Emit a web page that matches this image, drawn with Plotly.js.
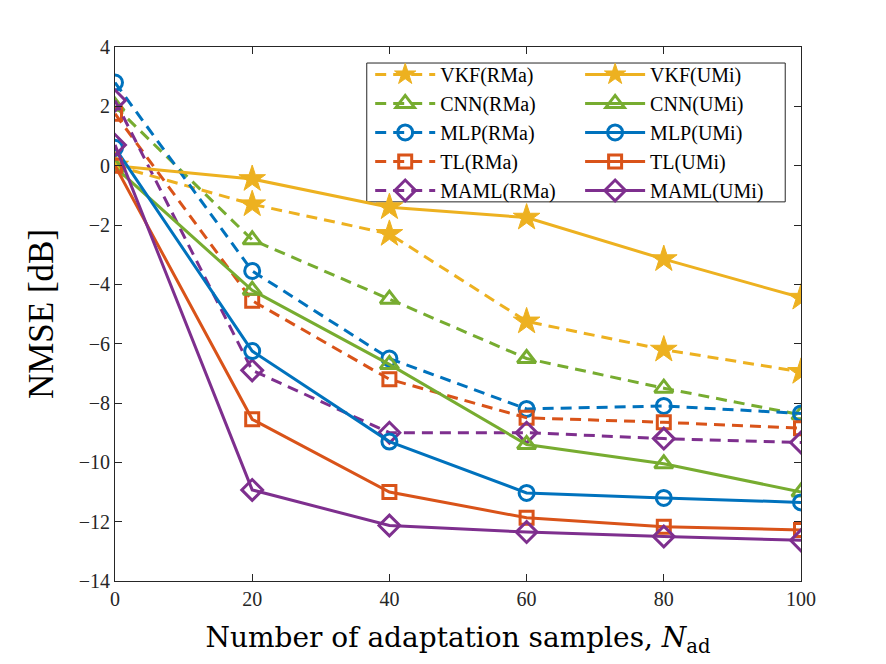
<!DOCTYPE html>
<html>
<head>
<meta charset="utf-8">
<script src="https://cdn.plot.ly/plotly-3.0.1.min.js"></script>
<style>
  html, body { margin: 0; padding: 0; background: #fff; }
  #graph { width: 886px; height: 664px; }
</style>
</head>
<body>
<div id="graph"></div>
<script>
// adaptation samples
var nad = [0, 20, 40, 60, 80, 100];

// NMSE [dB]
var vkfRMa  = [0.0, -1.3, -2.3, -5.25, -6.2, -6.95];
var vkfUMi  = [0.0, -0.45, -1.4, -1.75, -3.15, -4.45];
var cnnRMa  = [2.0, -2.5, -4.5, -6.5, -7.5, -8.4];
var cnnUMi  = [-0.05, -4.2, -6.7, -9.4, -10.05, -11.0];
var mlpRMa  = [2.8, -3.55, -6.5, -8.2, -8.1, -8.35];
var mlpUMi  = [0.6, -6.25, -9.3, -11.03, -11.2, -11.35];
var tlRMa   = [1.75, -4.55, -7.2, -8.5, -8.65, -8.85];
var tlUMi   = [0.0, -8.55, -11.0, -11.87, -12.17, -12.28];
var mamlRMa = [2.2, -6.9, -9.0, -9.0, -9.2, -9.33];
var mamlUMi = [0.7, -10.93, -12.13, -12.35, -12.5, -12.63];

var yTicks = [-14, -12, -10, -8, -6, -4, -2, 0, 2, 4];
var xTicks = [0, 20, 40, 60, 80, 100];

// MATLAB default colours
var cYel = '#EDB120', cGrn = '#77AC30', cBlu = '#0072BD', cOra = '#D95319', cPur = '#7E2F8E';
var dashed = '11px,7px';

function tr(name, y, color, symbol, size, dash, leg) {
  return {
    x: nad, y: y, name: name, type: 'scatter', mode: 'lines+markers',
    legend: leg,
    line: {color: color, width: 3, dash: dash},
    marker: {symbol: symbol, size: size, color: color,
             line: {color: color, width: symbol === 'star' ? 1 : 3}}
  };
}

var data = [
  tr('VKF(RMa)', vkfRMa, cYel, 'star', 20, dashed, 'legend'),
  tr('CNN(RMa)', cnnRMa, cGrn, 'triangle-up-open', 16, dashed, 'legend'),
  tr('MLP(RMa)', mlpRMa, cBlu, 'circle-open', 15, dashed, 'legend'),
  tr('TL(RMa)', tlRMa, cOra, 'square-open', 13, dashed, 'legend'),
  tr('MAML(RMa)', mamlRMa, cPur, 'diamond-open', 16, dashed, 'legend'),
  tr('VKF(UMi)', vkfUMi, cYel, 'star', 20, 'solid', 'legend2'),
  tr('CNN(UMi)', cnnUMi, cGrn, 'triangle-up-open', 16, 'solid', 'legend2'),
  tr('MLP(UMi)', mlpUMi, cBlu, 'circle-open', 15, 'solid', 'legend2'),
  tr('TL(UMi)', tlUMi, cOra, 'square-open', 13, 'solid', 'legend2'),
  tr('MAML(UMi)', mamlUMi, cPur, 'diamond-open', 16, 'solid', 'legend2')
];

var serif = "'Liberation Serif', serif";
var wideSerif = "'DejaVu Serif', serif";

function axis(extra) {
  var a = {
    showgrid: false, zeroline: false, showline: true, linecolor: '#262626', linewidth: 1,
    mirror: 'allticks', ticks: 'inside', ticklen: 7, tickcolor: '#262626',
    tickfont: {family: serif, size: 20, color: '#262626'}
  };
  return Object.assign(a, extra);
}

function leg(x) {
  return {
    bgcolor: 'rgba(0,0,0,0)', borderwidth: 0, yanchor: 'middle', xanchor: 'left',
    x: x, y: 0.84,
    font: {family: serif, size: 20, color: '#000'}, itemwidth: 60, tracegroupgap: 0,
    itemclick: false
  };
}

var layout = {
  width: 886, height: 664,
  margin: {l: 115, r: 85, t: 47, b: 83},
  paper_bgcolor: '#fff', plot_bgcolor: '#fff',
  showlegend: true,
  xaxis: axis({
    range: [0, 100], tickvals: xTicks,
    title: {text: 'Number of adaptation samples, <i>N</i><sub>ad</sub>',
            font: {family: wideSerif, size: 28, color: '#000'}, standoff: 18}
  }),
  yaxis: axis({
    range: [-14, 4], tickvals: yTicks,
    title: {text: 'NMSE [dB]', font: {family: serif, size: 35, color: '#000'}, standoff: 14}
  }),
  legend: leg(0.372),
  legend2: leg(0.678),
  shapes: [{
    type: 'rect', xref: 'paper', yref: 'paper',
    x0: 0.367, x1: 0.977, y0: 0.71, y1: 0.97,
    line: {color: '#262626', width: 1}, fillcolor: '#fff', layer: 'below'
  }]
};

Plotly.newPlot('graph', data, layout, {displayModeBar: false});
</script>
</body>
</html>
